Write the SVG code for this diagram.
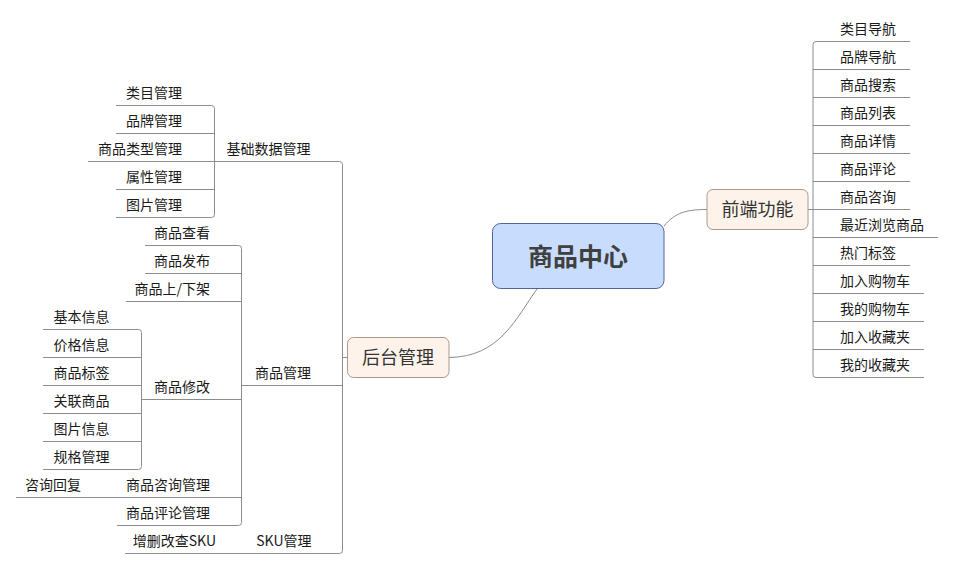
<svg xmlns="http://www.w3.org/2000/svg" width="954" height="569" viewBox="0 0 954 569">
<style>
.t{font-family:"Noto Sans CJK SC","Liberation Sans",sans-serif;font-size:14px;fill:#1a1a1a}
.l{text-anchor:end}
.ln{fill:none;stroke:#8c8c8c;stroke-width:1}
.main{fill:#c8dcfd;stroke:#4f6497;stroke-width:1}
.sub{fill:#fdf3ea;stroke:#a8998c;stroke-width:1}
.mt{font-family:"Noto Sans CJK SC",sans-serif;font-size:25px;font-weight:bold;fill:#404040;text-anchor:middle}
.st{font-family:"Noto Sans CJK SC",sans-serif;font-size:18px;fill:#333;text-anchor:middle}
</style>
<rect width="954" height="569" fill="#fff"/>
<g id="connectors" class="ln">
<path d="M664,226 C676,211 690,209.5 707,209.5"/>
<path d="M449,357.5 C500,357 516,318 537,289"/>
<path d="M808,209.5 H813"/>
<path d="M910,41.5 H816 Q813,41.5 813,44.5 V374.5 Q813,377.5 816,377.5 H924"/>
<path d="M813,69.5 H910 M813,97.5 H910 M813,125.5 H910 M813,153.5 H910 M813,181.5 H910 M813,209.5 H910 M813,237.5 H938 M813,265.5 H910 M813,293.5 H924 M813,321.5 H924 M813,349.5 H924"/>
<path d="M342.5,357.5 H348"/>
<path d="M214.5,161.5 H339.5 Q342.5,161.5 342.5,164.5 V550.5 Q342.5,553.5 339.5,553.5 H125"/>
<path d="M241.5,385.5 H342.5"/>
<path d="M116,105.5 H211.5 Q214.5,105.5 214.5,108.5 V214.5 Q214.5,217.5 211.5,217.5 H116"/>
<path d="M116,133.5 H214.5 M88,161.5 H214.5 M116,189.5 H214.5"/>
<path d="M145,245.5 H238.5 Q241.5,245.5 241.5,248.5 V522.5 Q241.5,525.5 238.5,525.5 H117"/>
<path d="M145,273.5 H241.5 M126,301.5 H241.5 M141.5,399.5 H241.5 M16,497.5 H241.5"/>
<path d="M43,329.5 H138.5 Q141.5,329.5 141.5,332.5 V466.5 Q141.5,469.5 138.5,469.5 H43"/>
<path d="M43,357.5 H141.5 M43,385.5 H141.5 M43,413.5 H141.5 M43,441.5 H141.5"/>
</g>
<g id="center"><rect class="main" x="492.5" y="223.5" width="171.5" height="65" rx="8"/><text class="mt" x="578" y="266">商品中心</text></g>
<g id="frontend"><rect class="sub" x="707" y="189.5" width="101" height="40" rx="6"/><text class="st" x="757.5" y="215.5">前端功能</text></g>
<g id="backend"><rect class="sub" x="347.5" y="337.5" width="101.5" height="40" rx="6"/><text class="st" x="398" y="363.5">后台管理</text></g>
<g id="frontend-items" class="t">
<text x="840" y="33.5">类目导航</text>
<text x="840" y="61.5">品牌导航</text>
<text x="840" y="89.5">商品搜索</text>
<text x="840" y="117.5">商品列表</text>
<text x="840" y="145.5">商品详情</text>
<text x="840" y="173.5">商品评论</text>
<text x="840" y="201.5">商品咨询</text>
<text x="840" y="229.5">最近浏览商品</text>
<text x="840" y="257.5">热门标签</text>
<text x="840" y="285.5">加入购物车</text>
<text x="840" y="313.5">我的购物车</text>
<text x="840" y="341.5">加入收藏夹</text>
<text x="840" y="369.5">我的收藏夹</text>
</g>
<g id="basic-data" class="t l">
<text x="310.5" y="153.5">基础数据管理</text>
<text x="182" y="97.5">类目管理</text>
<text x="182" y="125.5">品牌管理</text>
<text x="182" y="153.5">商品类型管理</text>
<text x="182" y="181.5">属性管理</text>
<text x="182" y="209.5">图片管理</text>
</g>
<g id="product-mgmt" class="t l">
<text x="311" y="377.5">商品管理</text>
<text x="210" y="237.5">商品查看</text>
<text x="210" y="265.5">商品发布</text>
<text x="210" y="293.5">商品上/下架</text>
<text x="210" y="391.5">商品修改</text>
<text x="210" y="489.5">商品咨询管理</text>
<text x="210" y="517.5">商品评论管理</text>
<text x="81" y="489.5">咨询回复</text>
</g>
<g id="product-edit" class="t l">
<text x="109.5" y="321.5">基本信息</text>
<text x="109.5" y="349.5">价格信息</text>
<text x="109.5" y="377.5">商品标签</text>
<text x="109.5" y="405.5">关联商品</text>
<text x="109.5" y="433.5">图片信息</text>
<text x="109.5" y="461.5">规格管理</text>
</g>
<g id="sku" class="t l">
<text x="311.5" y="545.5">SKU管理</text>
<text x="216" y="545.5">增删改查SKU</text>
</g>
</svg>
